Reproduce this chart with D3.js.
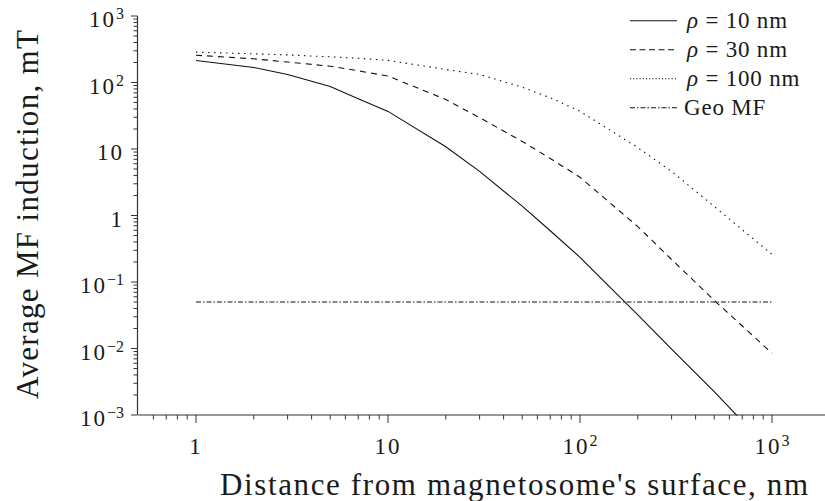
<!DOCTYPE html>
<html><head><meta charset="utf-8">
<script src="https://cdn.jsdelivr.net/npm/d3@7"></script>
<style>
html,body{margin:0;padding:0;background:#fff;}
text{font-family:"Liberation Serif",serif;fill:#1a1a1a;}
</style></head>
<body>
<svg id="c" width="825" height="501"></svg>
<script>
// ---- data ----
const distances = [1,2,3,5,7,10,20,30,50,70,100,200,300,500,700,1000];
const rho10  = [214,168,132,87,57,36.8,10.8,4.6,1.38,0.59,0.235,0.032,0.0098,0.00224,0.00081,0.00028];
const rho30  = [257,227,203,176,150,125,55.5,29.6,13,7.2,3.76,0.68,0.218,0.053,0.0218,0.0085];
const rho100 = [286,270,260,243,232,215,157,132,85,59,37,10.5,4.6,1.37,0.61,0.26];
const geoMF  = [0.05,0.05];
const geoX   = [1,1000];
const seriesNames = ["\u03C1 = 10 nm","\u03C1 = 30 nm","\u03C1 = 100 nm","Geo MF"];
const yMajor = [0.001,0.01,0.1,1,10,100,1000];
const yLabels = [["10","\u22123"],["10","\u22122"],["10","\u22121"],["1",""],["10",""],["10","2"],["10","3"]];
const xMajor = [1,10,100,1000];
const xLabels = [["1",""],["10",""],["10","2"],["10","3"]];

// ---- layout ----
const svg = d3.select("#c");
const x = d3.scaleLog().domain([0.5,2000]).range([138.2,829.8]);
const y = d3.scaleLog().domain([0.001,1000]).range([415,16]);

svg.append("defs").append("clipPath").attr("id","clip")
  .append("rect").attr("x",138).attr("y",16).attr("width",700).attr("height",399.5);

function minors(lo,hi){
  const out=[];
  for(let e=-4;e<=4;e++){for(let m=2;m<=9;m++){const v=m*Math.pow(10,e); if(v>lo*1.0001&&v<hi) out.push(v);}}
  return out;
}
const g = svg.append("g");
g.append("line").attr("x1",x(0.5)).attr("x2",x(2000)).attr("y1",415).attr("y2",415)
  .attr("stroke","#333").attr("stroke-width",1.2);
g.selectAll(".xmin").data(minors(0.5,2000)).join("line")
  .attr("x1",d=>x(d)).attr("x2",d=>x(d)).attr("y1",415).attr("y2",419.5).attr("stroke","#333");
g.selectAll(".xmaj").data(xMajor).join("line")
  .attr("x1",d=>x(d)).attr("x2",d=>x(d)).attr("y1",415).attr("y2",423).attr("stroke","#333");
g.append("line").attr("x1",137.5).attr("x2",137.5).attr("y1",y(1000)).attr("y2",415)
  .attr("stroke","#333").attr("stroke-width",1.2);
g.selectAll(".ymin").data(minors(0.001,1000)).join("line")
  .attr("x1",133.5).attr("x2",137.5).attr("y1",d=>y(d)).attr("y2",d=>y(d)).attr("stroke","#333");
g.selectAll(".ymaj").data(yMajor).join("line")
  .attr("x1",131).attr("x2",137.5).attr("y1",d=>y(d)).attr("y2",d=>y(d)).attr("stroke","#333");

function label(sel, parts){
  sel.append("tspan").text(parts[0]);
  if(parts[1]) sel.append("tspan").attr("dy",-8).attr("font-size",16).attr("letter-spacing",0).text(parts[1]);
}
yMajor.forEach((v,i)=>{
  const t = g.append("text").attr("x",124).attr("y",y(v)+11).attr("font-size",23)
    .attr("letter-spacing",2).attr("text-anchor","end");
  label(t,yLabels[i]);
});
xMajor.forEach((v,i)=>{
  const t = g.append("text").attr("x",x(v)).attr("y",454).attr("font-size",23)
    .attr("letter-spacing",2).attr("text-anchor","middle");
  label(t,xLabels[i]);
});

svg.append("text").attr("x",220).attr("y",495).attr("font-size",31)
  .attr("textLength",588).text("Distance from magnetosome's surface, nm");
svg.append("text").attr("transform","translate(38,399) rotate(-90)").attr("font-size",31)
  .attr("textLength",369).text("Average MF induction, mT");

const line = d3.line().x(d=>x(d[0])).y(d=>y(d[1]));
const plot = svg.append("g").attr("clip-path","url(#clip)");
const styles = [
  {data:d3.zip(distances,rho10), dash:null, dashL:null},
  {data:d3.zip(distances,rho30), dash:"6,5", dashL:"6,3.5"},
  {data:d3.zip(distances,rho100), dash:"1.5,4.5", dashL:"1.2,2"},
  {data:d3.zip(geoX,geoMF), dash:"5,2,1.5,2", dashL:"5,2,1.5,2"}
];
styles.forEach(s=>{
  plot.append("path").attr("d",line(s.data)).attr("fill","none").attr("stroke","#111")
    .attr("stroke-width",1.1).attr("stroke-dasharray",s.dash);
});

const leg = svg.append("g");
styles.forEach((s,i)=>{
  const ly = 20.7 + i*29;
  leg.append("line").attr("x1",630).attr("x2",677).attr("y1",ly).attr("y2",ly)
    .attr("stroke","#111").attr("stroke-width",1.1).attr("stroke-dasharray",s.dashL);
  const t = leg.append("text").attr("x",i<3?687:684).attr("y",ly+7.5).attr("font-size",23)
    .attr("letter-spacing",0.8);
  const name = seriesNames[i];
  if(name[0]==="\u03C1"){
    t.append("tspan").attr("font-style","italic").text("\u03C1");
    t.append("tspan").text(name.slice(1));
  } else t.text(name);
});
</script>
</body></html>
